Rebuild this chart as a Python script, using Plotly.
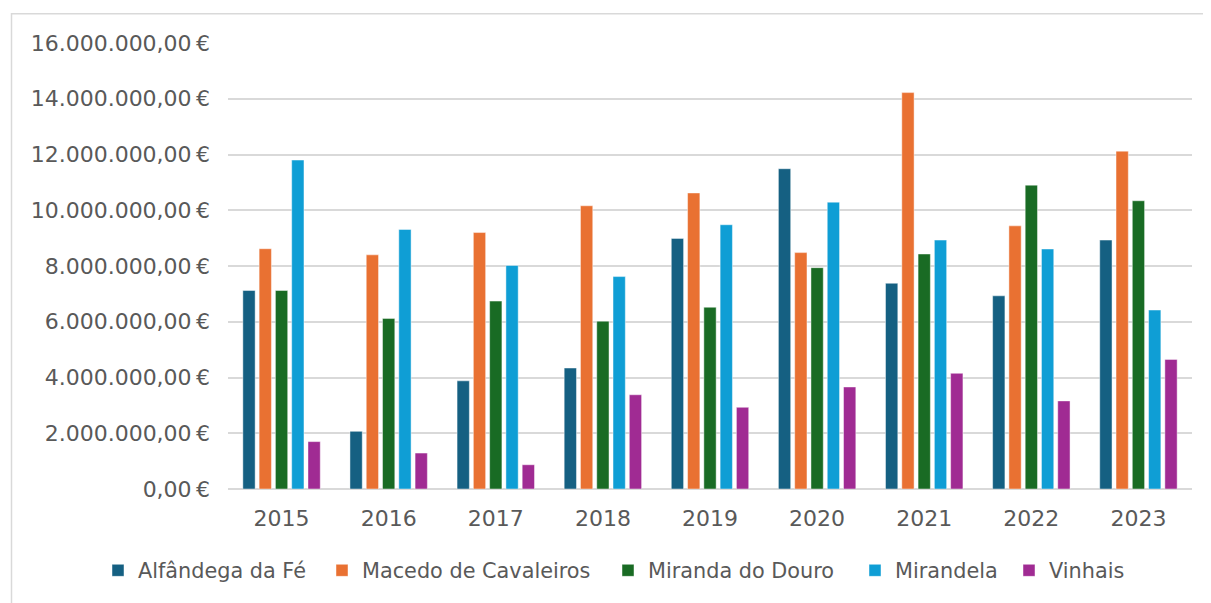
import plotly.graph_objects as go

years = ["2015", "2016", "2017", "2018", "2019", "2020", "2021", "2022", "2023"]

alfandega = [7.12e6, 2.07e6, 3.88e6, 4.34e6, 8.99e6, 11.49e6, 7.38e6, 6.93e6, 8.93e6]
macedo = [8.62e6, 8.40e6, 9.20e6, 10.16e6, 10.62e6, 8.48e6, 14.22e6, 9.44e6, 12.12e6]
miranda = [7.12e6, 6.12e6, 6.74e6, 6.02e6, 6.52e6, 7.94e6, 8.43e6, 10.90e6, 10.34e6]
mirandela = [11.80e6, 9.31e6, 8.02e6, 7.62e6, 9.48e6, 10.29e6, 8.93e6, 8.61e6, 6.42e6]
vinhais = [1.70e6, 1.29e6, 0.87e6, 3.38e6, 2.93e6, 3.66e6, 4.15e6, 3.16e6, 4.65e6]

series_names = ["Alfândega da Fé", "Macedo de Cavaleiros", "Miranda do Douro", "Mirandela", "Vinhais"]
series_values = [alfandega, macedo, miranda, mirandela, vinhais]
colors = ["#156082", "#E97132", "#196B24", "#0F9ED5", "#A02B93"]

y_tickvals = [0, 2e6, 4e6, 6e6, 8e6, 10e6, 12e6, 14e6, 16e6]
y_ticktext = ["0,00\u202f€", "2.000.000,00\u202f€", "4.000.000,00\u202f€", "6.000.000,00\u202f€",
              "8.000.000,00\u202f€", "10.000.000,00\u202f€", "12.000.000,00\u202f€",
              "14.000.000,00\u202f€", "16.000.000,00\u202f€"]

FONT = "DejaVu Sans"
TXT = "#595959"

# page is offset by the 8px body margin
OFF = 8
W, H = 1211 - OFF, 603 - OFF
L, R, T, B = 228 - OFF, 19, 42.5 - OFF, 109.7
pw = W - L - R
ph = H - T - B


def px_x(page_px):
    return (page_px - OFF - L) / pw


def px_y(page_py):
    return (H - B - (page_py - OFF)) / ph


legend_left_px = [98, 322, 608, 855, 1009]

fig = go.Figure()
layout_legends = {}
for i, (name, vals, col) in enumerate(zip(series_names, series_values, colors)):
    key = "legend" if i == 0 else f"legend{i + 1}"
    fig.add_trace(go.Bar(
        x=years, y=vals, name=name, legend=key,
        marker=dict(color=col, line=dict(color="rgba(255,255,255,0.6)", width=0.75)),
    ))
    layout_legends[key] = dict(
        orientation="h", x=px_x(legend_left_px[i]), xanchor="left",
        y=px_y(576), yanchor="middle",
        font=dict(family=FONT, size=20.8, color=TXT),
        itemwidth=30, bgcolor="rgba(0,0,0,0)", borderwidth=0,
    )

fig.update_layout(
    width=W, height=H,
    margin=dict(l=L, r=R, t=T, b=B, pad=0),
    paper_bgcolor="white", plot_bgcolor="white",
    barmode="group", bargap=0.24, bargroupgap=0.245,
    font=dict(family=FONT, size=22, color=TXT),
    showlegend=True,
    xaxis=dict(
        showgrid=False, showline=False, zeroline=False,
        ticks="outside", ticklen=10, tickcolor="rgba(0,0,0,0)",
        tickfont=dict(family=FONT, size=22, color=TXT),
    ),
    yaxis=dict(
        range=[0, 16e6], tickvals=y_tickvals, ticktext=y_ticktext,
        showgrid=True, gridcolor="#D9D9D9", gridwidth=1.5,
        zeroline=True, zerolinecolor="#D9D9D9", zerolinewidth=1.5,
        showline=False, ticks="", ticklabelstandoff=17,
        tickfont=dict(family=FONT, size=22, color=TXT),
    ),
    shapes=[dict(
        type="rect", xref="paper", yref="paper",
        x0=px_x(11.5), x1=px_x(1240),
        y0=px_y(650), y1=px_y(13),
        line=dict(color="#D9D9D9", width=1.5), fillcolor="rgba(0,0,0,0)",
        layer="below",
    )],
    **layout_legends,
)

fig.write_html("out.html")
